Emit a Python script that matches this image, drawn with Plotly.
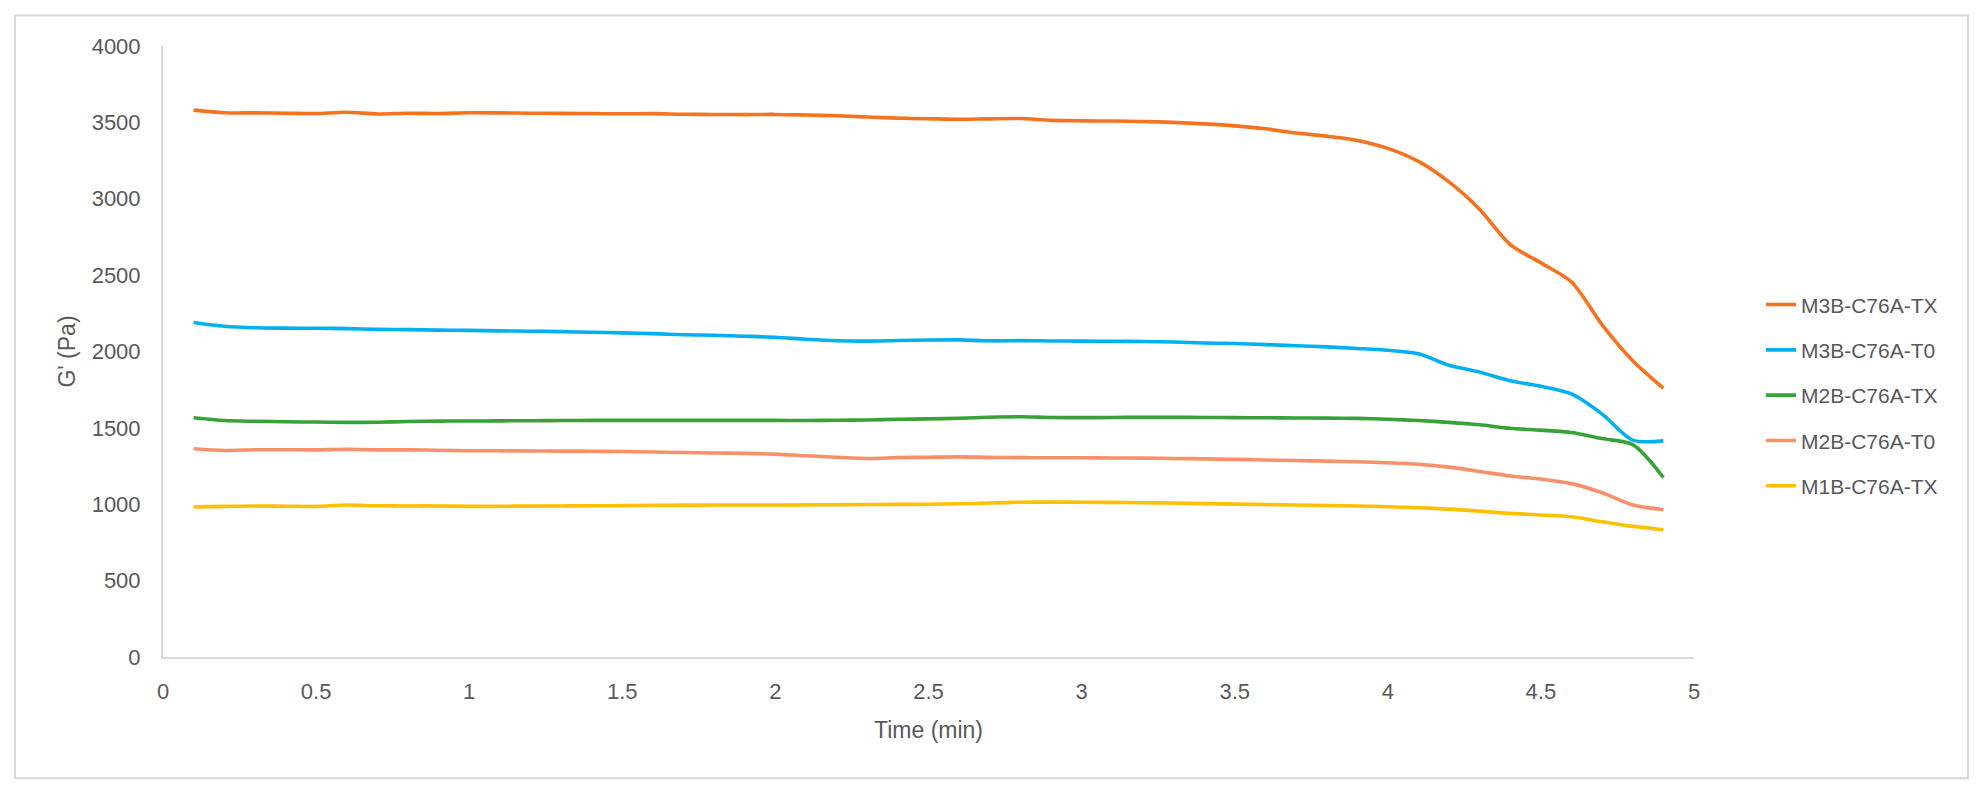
import plotly.graph_objects as go

time_min = [0.1, 0.2, 0.3, 0.4, 0.5, 0.6, 0.7, 0.8, 0.9, 1.0,
            1.1, 1.2, 1.3, 1.4, 1.5, 1.6, 1.7, 1.8, 1.9, 2.0,
            2.1, 2.2, 2.3, 2.4, 2.5, 2.6, 2.7, 2.8, 2.9, 3.0,
            3.1, 3.2, 3.3, 3.4, 3.5, 3.6, 3.7, 3.8, 3.9, 4.0,
            4.1, 4.2, 4.3, 4.4, 4.5, 4.6, 4.7, 4.8, 4.9]

m3b_tx = [3580, 3563, 3562, 3560, 3558, 3566, 3555, 3560, 3558, 3563,
          3562, 3560, 3559, 3558, 3556, 3557, 3553, 3552, 3551, 3552,
          3548, 3543, 3535, 3528, 3524, 3520, 3523, 3525, 3513, 3510,
          3509, 3506, 3500, 3490, 3477, 3458, 3430, 3410, 3382, 3330,
          3245, 3110, 2930, 2700, 2580, 2455, 2175, 1940, 1760]

m3b_t0 = [2190, 2165, 2155, 2153, 2152, 2150, 2145, 2143, 2140, 2138,
          2135, 2133, 2130, 2126, 2122, 2117, 2110, 2106, 2100, 2093,
          2080, 2070, 2068, 2072, 2075, 2076, 2070, 2071, 2069, 2068,
          2067, 2065, 2062, 2056, 2052, 2045, 2038, 2030, 2020, 2008,
          1985, 1910, 1865, 1808, 1772, 1722, 1590, 1420, 1415]

m2b_tx = [1566, 1548, 1543, 1540, 1538, 1536, 1537, 1542, 1544, 1545,
          1546, 1547, 1548, 1549, 1549, 1549, 1549, 1549, 1549, 1549,
          1548, 1550, 1552, 1556, 1559, 1563, 1570, 1573, 1568, 1567,
          1568, 1569, 1569, 1568, 1567, 1566, 1565, 1564, 1562, 1556,
          1548, 1536, 1520, 1497, 1485, 1470, 1430, 1390, 1175]

m2b_t0 = [1363, 1352, 1357, 1357, 1356, 1360, 1356, 1356, 1354, 1350,
          1350, 1349, 1348, 1347, 1345, 1342, 1339, 1336, 1333, 1328,
          1318, 1308, 1300, 1305, 1308, 1310, 1307, 1305, 1304, 1304,
          1303, 1302, 1300, 1297, 1294, 1290, 1286, 1282, 1278, 1272,
          1262, 1243, 1215, 1185, 1165, 1135, 1075, 995, 965]

m1b_tx = [983, 986, 989, 987, 986, 995, 990, 989, 989, 986,
          987, 988, 989, 990, 991, 993, 994, 995, 995, 995,
          996, 997, 998, 999, 1000, 1003, 1008, 1013, 1014, 1013,
          1012, 1010, 1008, 1004, 1001, 998, 995, 992, 989, 984,
          977, 968, 955, 940, 930, 918, 885, 855, 833]

series_names = ["M3B-C76A-TX", "M3B-C76A-T0", "M2B-C76A-TX", "M2B-C76A-T0", "M1B-C76A-TX"]
series_values = [m3b_tx, m3b_t0, m2b_tx, m2b_t0, m1b_tx]
series_colors = ["#F5731F", "#00B0F0", "#38A238", "#F8916A", "#FFC000"]

x_ticks = [0, 0.5, 1, 1.5, 2, 2.5, 3, 3.5, 4, 4.5, 5]
x_tick_text = ["0", "0.5", "1", "1.5", "2", "2.5", "3", "3.5", "4", "4.5", "5"]
y_ticks = [0, 500, 1000, 1500, 2000, 2500, 3000, 3500, 4000]

FONT = "Liberation Sans, Arial, sans-serif"
TXT = "#595959"
AX = "#D9D9D9"

fig = go.Figure()
for i, (name, vals, col) in enumerate(zip(series_names, series_values, series_colors)):
    fig.add_trace(go.Scatter(
        x=time_min, y=vals, name=name, mode="lines",
        line=dict(color=col, width=3.6, shape="spline", smoothing=0.8),
        legendgroup=f"g{i}",
    ))

W, H = 1984, 796
L, R, T, B = 163, 290, 45.5, 139.3
pw = W - L - R
ph = H - T - B

def px_to_paper_x(px):
    return (px - L) / pw

def px_to_paper_y(py):
    return (H - B - py) / ph

fig.add_shape(type="rect", xref="paper", yref="paper",
              x0=px_to_paper_x(15), x1=px_to_paper_x(1968),
              y0=px_to_paper_y(778), y1=px_to_paper_y(15),
              line=dict(color="#D9D9D9", width=2), layer="below")

fig.update_layout(
    width=W, height=H,
    margin=dict(l=L, r=R, t=T, b=B, pad=0),
    paper_bgcolor="white", plot_bgcolor="white",
    font=dict(family=FONT, size=22, color=TXT),
    showlegend=True,
    legend=dict(
        x=px_to_paper_x(1761), y=px_to_paper_y(284), xanchor="left", yanchor="top",
        font=dict(family=FONT, size=21, color=TXT),
        tracegroupgap=15, bgcolor="rgba(0,0,0,0)",
    ),
    xaxis=dict(
        range=[0, 5], tickvals=x_ticks, ticktext=x_tick_text,
        showgrid=False, zeroline=False, showline=True, linecolor=AX, linewidth=2,
        ticks="", ticklabelstandoff=14,
        tickfont=dict(family=FONT, size=22, color=TXT),
        title=dict(text="Time (min)", font=dict(family=FONT, size=23, color=TXT), standoff=18),
    ),
    yaxis=dict(
        range=[0, 4000], tickvals=y_ticks,
        showgrid=False, zeroline=False, showline=True, linecolor=AX, linewidth=2,
        ticks="", ticklabelstandoff=16,
        tickfont=dict(family=FONT, size=22, color=TXT),
        title=dict(text="G' (Pa)", font=dict(family=FONT, size=23, color=TXT), standoff=10),
    ),
)

fig.write_html("out.html", config={"displayModeBar": False},
               post_script="document.body.style.margin='0';document.body.style.padding='0';")
